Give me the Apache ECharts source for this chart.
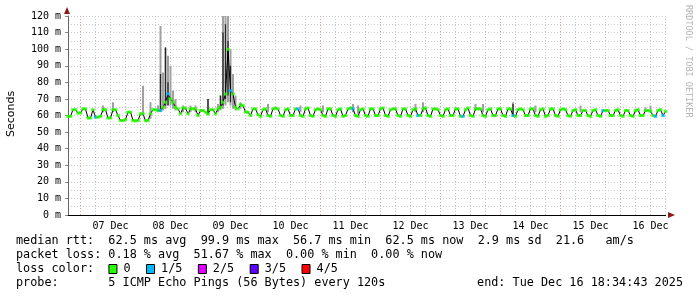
<!DOCTYPE html>
<html><head><meta charset="utf-8">
<script src="https://cdn.jsdelivr.net/npm/echarts@6/dist/echarts.min.js"></script>
<style>html,body{margin:0;padding:0;background:#fff}#c{width:697px;height:297px}</style>
</head><body><div id="c"></div>
<script>
// first hourly sample: 2025-12-06 19:00 UTC, one value per hour
const startUTC = Date.UTC(2025, 11, 6, 19, 0, 0);

// median rtt (ms), hourly
const median = [
  59.5, 59.5, 63.5, 63.5, 61.5, 61.5, 64, 64, 58.5, 58.5,
  63.5, 59, 59, 59.5, 63.5, 63.5, 58.5, 58.5, 63.5, 63.5,
  60, 57, 57, 57.5, 62, 62, 57, 56.7, 57, 61,
  61, 56.8, 57, 61, 63.5, 63.5, 63, 63, 65, 68,
  73, 70, 68, 65, 64, 61, 64.5, 64.5, 61, 64,
  64, 64, 60, 63, 63, 62, 61, 63.5, 63.5, 61,
  64, 65, 68, 73, 99.9, 75, 73, 65, 64, 66.5,
  66, 62, 62,
  60, 64, 64, 60.5,
  59.5, 63.5, 64, 60,
  59.5, 64, 64.5, 64, 60,
  59.5, 63.5, 64, 60,
  60, 64, 64, 60,
  59.5, 64, 64.5, 60,
  59.5, 63.5, 64, 63.5, 60,
  59.5, 64, 64, 60,
  59.5, 63.5, 64, 59.5,
  60, 64, 64.5, 64, 60,
  59.5, 63.5, 64, 60,
  59.5, 64, 64, 60,
  60, 64, 64.5, 60,
  59.5, 63.5, 64, 64, 60,
  59.5, 64, 64, 60,
  59.5, 63.5, 64, 60,
  60, 64, 64.5, 60,
  59.5, 64, 64, 63.5, 60,
  59.5, 63.5, 64, 60,
  60, 64, 64, 59.5,
  59.5, 63.5, 64.5, 60,
  59.5, 64, 64, 64, 60,
  59.5, 63.5, 64, 60,
  60, 64, 64, 60,
  59.5, 64, 64, 60,
  59.5, 63.5, 64, 63.5, 60,
  60, 64, 64, 60,
  59.5, 63.5, 64, 59.5,
  60, 64, 64, 60,
  59.5, 63.5, 64, 63.5, 60,
  59.5, 63, 63.5, 60,
  60, 63, 63, 60,
  59.5, 63, 63.5, 60,
  59.5, 63, 63, 63, 60,
  60, 63, 63.5, 60,
  59.5, 63, 63, 60,
  59.5, 63, 63.5, 60,
  60, 63, 63, 62.5, 60,
  59.5, 63, 63.5, 60,
  62.5
];

// samples with packet loss: [hour index, lost pings of 5]
const lossPoints = [[11,1],[37,1],[40,1],[65,1],[92,1],[114,1],[140,1],[158,1],[178,1],[214,1],[235,1],[238,1]];

// visible light smoke: [hour index, low ms, high ms]
const smoke = [
  [14,62,66],[18,62,68],[30,60,78],[33,58,68],[36,62,66],[37,62,114],[38,63,86],[39,64,101],
  [40,66,96],[41,66,90],[42,64,75],[43,63,70],[46,62,66],[49,62,66],[51,62,66],[56,60,70],
  [60,62,67],[61,63,72],[62,64,120],[63,66,120],[64,68,120],[65,66,100],[66,64,85],[67,63,72],
  [69,64,68],[80,62,67],[93,62,66],[102,62,66],[114,62,67],[116,61,66],[139,62,67],[142,62,68],
  [163,63,67],[166,62,67],[178,60,68],[187,62,66],[205,62,66],[231,62,65],[233,62,66]
];
// dense (dark) smoke: [hour index, low ms, high ms]
const darkSmoke = [
  [37,64,85],[39,66,101],[40,66,80],[56,61,70],[61,64,72],[62,66,110],[63,70,115],[64,72,105],[65,68,90],[178,60,67]
];

const yMin = 0, yMax = 120, yMajor = 10, yMinor = 5;

const legendLines = [
  'median rtt:  62.5 ms avg  99.9 ms max  56.7 ms min  62.5 ms now  2.9 ms sd  21.6   am/s',
  'packet loss: 0.18 % avg  51.67 % max  0.00 % min  0.00 % now'
];
const lossLegend = [['0','#26ff00'],['1/5','#00b8ff'],['2/5','#dd00ff'],['3/5','#5e00ff'],['4/5','#ff0000']];
const probeText = 'probe:       5 ICMP Echo Pings (56 Bytes) every 120s';
const endText = 'end: Tue Dec 16 18:34:43 2025';
const watermark = 'RRDTOOL / TOBI OETIKER';
const yTitle = 'Seconds';

const MONTHS = ['Jan','Feb','Mar','Apr','May','Jun','Jul','Aug','Sep','Oct','Nov','Dec'];
const cats = median.map((_, i) => startUTC + i * 3600000);
const hourOf = i => new Date(cats[i]).getUTCHours();
const catLabel = t => { const d = new Date(+t); return String(d.getUTCDate()).padStart(2,'0') + ' ' + MONTHS[d.getUTCMonth()]; };

const lossColor = n => lossLegend[n][1];
const lossMap = {}; lossPoints.forEach(([i,n]) => lossMap[i] = n);
const markerData = median.map((v, i) => ({value: v, itemStyle: {color: lossColor(lossMap[i] || 0)}}));

const MONO = '"DejaVu Sans Mono", monospace';
const chart = echarts.init(document.getElementById('c'), null, {renderer: 'canvas'});

function smokeRender(color, frac) {
  return function (params, api) {
    const x = api.value(0);
    const p1 = api.coord([x, api.value(1)]);
    const p2 = api.coord([x, api.value(2)]);
    const w = api.size([1, 0])[0] * frac;
    return {type: 'rect', shape: {x: p1[0] - w / 2, y: p2[1], width: w, height: p1[1] - p2[1]}, style: {fill: color}};
  };
}

const graphics = [];
graphics.push({type: 'text', x: 11, y: 114, rotation: Math.PI / 2,
  style: {text: yTitle, font: '11px "DejaVu Sans"', fill: '#000', align: 'center', verticalAlign: 'middle'}});
graphics.push({type: 'text', x: 688, y: 5, rotation: -Math.PI / 2,
  style: {text: watermark, font: '8.5px ' + MONO, fill: '#b4b4b4', align: 'left', verticalAlign: 'middle'}});
const LX = 16, LS = 14, LY0 = 241, LF = '11.8px ' + MONO, CW = 7.11;
legendLines.forEach((t, k) => graphics.push({type: 'text', x: LX, y: LY0 + k * LS,
  style: {text: t, font: LF, fill: '#000', verticalAlign: 'middle'}}));
graphics.push({type: 'text', x: LX, y: LY0 + 2 * LS, style: {text: 'loss color:', font: LF, fill: '#000', verticalAlign: 'middle'}});
let cx = LX + 13 * CW;
lossLegend.forEach(([lab, col]) => {
  graphics.push({type: 'rect', shape: {x: cx + 0.5, y: LY0 + 2 * LS - 4.5, width: 8, height: 9}, style: {fill: col, stroke: '#000', lineWidth: 1}});
  graphics.push({type: 'text', x: cx + 15, y: LY0 + 2 * LS, style: {text: lab, font: LF, fill: '#000', verticalAlign: 'middle'}});
  cx += 15 + lab.length * CW + 15.5;
});
graphics.push({type: 'text', x: LX, y: LY0 + 3 * LS, style: {text: probeText, font: LF, fill: '#000', verticalAlign: 'middle'}});
graphics.push({type: 'text', x: 683, y: LY0 + 3 * LS, style: {text: endText, font: LF, fill: '#000', align: 'right', verticalAlign: 'middle'}});
// axis arrows
graphics.push({type: 'polygon', shape: {points: [[64, 14], [70, 14], [67, 7]]}, style: {fill: '#8b1a1a'}});
graphics.push({type: 'polygon', shape: {points: [[668, 212], [668, 218], [675, 215]]}, style: {fill: '#8b1a1a'}});

const option = {
  animation: false,
  backgroundColor: '#fff',
  grid: {left: 68, right: 31.5, top: 16, bottom: 82, containLabel: false},
  xAxis: [
    {type: 'category', data: cats, boundaryGap: false, position: 'bottom',
     axisLine: {show: true, lineStyle: {color: '#000', width: 1}},
     axisTick: {show: false},
     axisLabel: {show: true, interval: (i) => hourOf(i) === 12, formatter: catLabel,
       fontFamily: MONO, fontSize: 10, color: '#000', margin: 6},
     splitLine: {show: true, interval: (i) => hourOf(i) % 6 === 0 && hourOf(i) !== 0,
       lineStyle: {color: '#c4c4c4', type: [1, 2], width: 1}}},
    {type: 'category', data: cats, boundaryGap: false, position: 'bottom',
     axisLine: {show: false}, axisTick: {show: false}, axisLabel: {show: false},
     splitLine: {show: true, interval: (i) => hourOf(i) === 0,
       lineStyle: {color: '#e49a9a', type: [1, 2], width: 1}}}
  ],
  yAxis: [
    {type: 'value', min: yMin, max: yMax, interval: yMajor,
     axisLine: {show: true, lineStyle: {color: '#666', width: 1}},
     axisTick: {show: true, length: 3, lineStyle: {color: '#888'}},
     axisLabel: {formatter: v => v + ' m', fontFamily: MONO, fontSize: 10, color: '#000', margin: 7},
     splitLine: {show: true, lineStyle: {color: '#e49a9a', type: [1, 2], width: 1}}},
    {type: 'value', min: yMin, max: yMax, interval: yMinor,
     axisLine: {show: false}, axisTick: {show: false}, axisLabel: {show: false},
     splitLine: {show: true, interval: 0, lineStyle: {color: '#cccccc', type: [1, 2], width: 1}}}
  ],
  series: [
    {type: 'custom', xAxisIndex: 0, yAxisIndex: 0, data: smoke, encode: {x: 0, y: [1, 2]},
     renderItem: smokeRender('#a0a0a0', 0.8), z: 2, silent: true},
    {type: 'custom', xAxisIndex: 0, yAxisIndex: 0, data: darkSmoke, encode: {x: 0, y: [1, 2]},
     renderItem: smokeRender('#262626', 0.5), z: 3, silent: true},
    {type: 'line', xAxisIndex: 0, yAxisIndex: 0, data: median, showSymbol: false, symbol: 'none',
     lineStyle: {color: '#000', width: 1}, z: 4, silent: true},
    {type: 'scatter', xAxisIndex: 0, yAxisIndex: 0, data: markerData, symbol: 'rect',
     symbolSize: [3.5, 3], z: 5, silent: true}
  ],
  graphic: graphics
};
chart.setOption(option);
</script>
</body></html>
